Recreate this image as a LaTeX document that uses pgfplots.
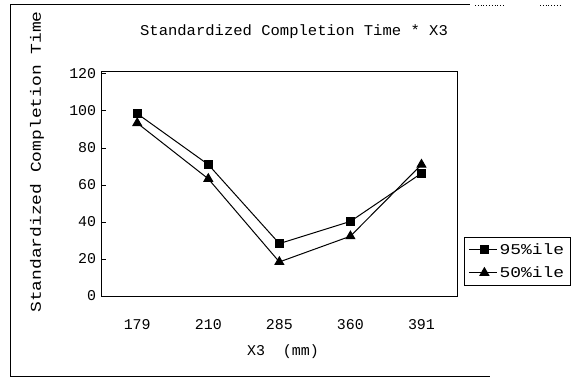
\documentclass[border=0pt]{standalone}
\usepackage{fontspec}
\setmainfont{Liberation Mono}
\usepackage{pgfplots}
\pgfplotsset{compat=1.18}
\begin{document}
\begin{tikzpicture}[x=1bp,y=1bp]
\useasboundingbox (0,0) rectangle (573,377);
\fill[white] (0,0) rectangle (573,377);
% outer frame
\draw[line width=1bp] (10,1) -- (10,372) -- (470,372);
\draw[line width=1bp] (10,1) -- (490,1);
\draw[line width=0.8bp, dotted] (475,372) -- (505,372);
\draw[line width=0.8bp, dotted] (540,372) -- (560,372);
\begin{axis}[
  at={(101.7bp,81bp)}, anchor=south west,
  scale only axis, width=355.3bp, height=224bp,
  xmin=-0.5, xmax=4.5, ymin=0, ymax=121,
  xtick={0,1,2,3,4},
  xticklabels={179,210,285,360,391},
  major x tick style={draw=none},
  extra x ticks={0.5,1.5,2.5,3.5},
  extra x tick labels={},
  extra x tick style={major tick length=6bp, tick style={black}},
  ytick={0,20,40,60,80,100,120},
  tick pos=left, tick align=inside,
  major tick length=4bp,
  axis line style={black, line width=1bp},
  every tick/.style={black, line width=0.8bp},
  /pgf/number format/assume math mode=true,
  tick label style={font=\fontsize{15}{18}\selectfont},
  xticklabel style={yshift=-20bp},
  yticklabel style={xshift=-2bp},
  legend style={at={(1.02,0.263)}, anchor=north west, draw=black,
    font=\fontsize{15}{18}\selectfont, inner sep=4bp, row sep=7bp,
    legend cell align=left},
  legend image code/.code={\draw[#1] (0cm,0cm) -- (1.0cm,0cm) plot coordinates {(0.55cm,0cm)};},
]
\addplot[black, line width=1bp, mark=square*, mark size=4bp] coordinates {
 (0,98.5) (1,71) (2,28.3) (3,40.3) (4,66.3)};
\addlegendentry{\scalebox{1.2}[1]{95\%ile}}
\addplot[black, line width=1bp, mark=triangle*, mark size=5bp] coordinates {
 (0,93.4) (1,63.3) (2,18.4) (3,32.3) (4,71)};
\addlegendentry{\scalebox{1.2}[1]{50\%ile}}
\end{axis}
\node[font=\fontsize{15}{18}\selectfont] at (294,345) {\scalebox{1.04}[1]{Standardized Completion Time * X3}};
\node[font=\fontsize{15}{18}\selectfont] at (283,25) {X3 \ (mm)};
\node[rotate=90, font=\fontsize{15}{18}\selectfont] at (37,215) {\scalebox{1.2}[1]{Standardized Completion Time}};
\end{tikzpicture}
\end{document}
